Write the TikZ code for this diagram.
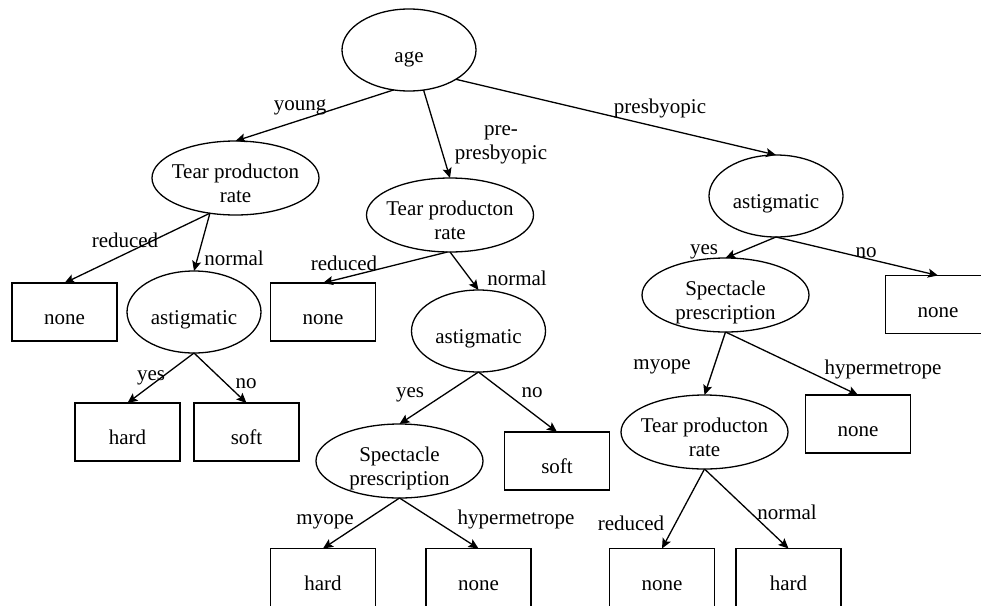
\documentclass[tikz,border=0pt]{standalone}
\usepackage{fontspec}
\setmainfont{Liberation Serif}
\usetikzlibrary{arrows.meta,shapes.geometric}
\newcommand\nodetext[1]{\makebox[0pt]{\raisebox{-8pt}[\height][\depth]{\begin{tabular}{@{}c@{}}#1\end{tabular}}}}
\newcommand\lbltext[1]{\raisebox{-3pt}[\height][\depth]{\begin{tabular}{@{}c@{}}#1\end{tabular}}}
\tikzset{
  base/.style={draw=black, line width=1.3pt, inner sep=0pt, outer sep=0pt, font=\fontsize{21}{24}\selectfont},
  ellbig/.style={base, ellipse, minimum width=134pt, minimum height=82pt},
  elltwo/.style={base, ellipse, minimum width=167pt, minimum height=74pt},
  leaf/.style={base, rectangle, minimum width=105pt, minimum height=58pt},
  lbl/.style={inner sep=0pt, outer sep=0pt, font=\fontsize{21}{24}\selectfont},
  edge/.style={line width=1.3pt, -{Stealth[length=10pt,width=9pt,inset=2pt]}},
}
\begin{document}
\begin{tikzpicture}[x=1pt,y=-1pt]
\useasboundingbox (0,0) rectangle (981,605);
% decision nodes
\node[ellbig] (age) at (409,50) {\nodetext{age}};
\node[elltwo] (t1) at (235.5,178) {\nodetext{Tear producton\\rate}};
\node[elltwo] (t2) at (450,215) {\nodetext{Tear producton\\rate}};
\node[ellbig] (a3) at (776,196) {\nodetext{astigmatic}};
\node[ellbig] (a1) at (194,312) {\nodetext{astigmatic}};
\node[ellbig] (a2) at (478.5,331) {\nodetext{astigmatic}};
\node[elltwo] (sp2) at (399.5,461) {\nodetext{Spectacle\\prescription}};
\node[elltwo] (sp3) at (725.5,295) {\nodetext{Spectacle\\prescription}};
\node[elltwo] (t3) at (704.5,432) {\nodetext{Tear producton\\rate}};
% leaves
\node[leaf] (n1) at (64.5,312) {\nodetext{none}};
\node[leaf] (n2) at (323,312) {\nodetext{none}};
\node[leaf] (h1) at (127.5,432) {\nodetext{hard}};
\node[leaf] (s1) at (246.5,432) {\nodetext{soft}};
\node[leaf] (s2) at (557,461) {\nodetext{soft}};
\node[leaf] (h2) at (323,577.5) {\nodetext{hard}};
\node[leaf] (n3) at (478.5,577.5) {\nodetext{none}};
\node[leaf] (n4) at (938,304.5) {\nodetext{none}};
\node[leaf] (n5) at (858,424) {\nodetext{none}};
\node[leaf] (n6) at (662,577.5) {\nodetext{none}};
\node[leaf] (h3) at (788.5,577.5) {\nodetext{hard}};
% edges
\draw[edge] (age.249) -- (t1.north);
\draw[edge] (age.290) -- (t2.north);
\draw[edge] (age.328) -- (a3.north);
\draw[edge] (t1.234) -- (n1.north);
\draw[edge] (t1.234) -- (a1.north);
\draw[edge] (t2.266) -- (n2.north);
\draw[edge] (t2.south) -- (a2.north);
\draw[edge] (a1.south) -- (h1.north);
\draw[edge] (a1.south) -- (s1.north);
\draw[edge] (a2.south) -- (sp2.north);
\draw[edge] (a2.south) -- (s2.north);
\draw[edge] (sp2.south) -- (h2.north);
\draw[edge] (sp2.south) -- (n3.north);
\draw[edge] (a3.south) -- (sp3.north);
\draw[edge] (a3.south) -- (n4.north);
\draw[edge] (sp3.south) -- (t3.north);
\draw[edge] (sp3.south) -- (n5.north);
\draw[edge] (t3.south) -- (n6.north);
\draw[edge] (t3.south) -- (h3.north);
% edge labels
\node[lbl] (l1) at (300,103) {\lbltext{young}};
\node[lbl] (l2) at (501,139.5) {\lbltext{pre-\\presbyopic}};
\node[lbl] (l3) at (660,106) {\lbltext{presbyopic}};
\node[lbl] (l4) at (125,240) {\lbltext{reduced}};
\node[lbl] (l5) at (234,258) {\lbltext{normal}};
\node[lbl] (l6) at (344,263) {\lbltext{reduced}};
\node[lbl] (l7) at (517,278) {\lbltext{normal}};
\node[lbl] (l8) at (151,373) {\lbltext{yes}};
\node[lbl] (l9) at (246,381) {\lbltext{no}};
\node[lbl] (l10) at (410,390) {\lbltext{yes}};
\node[lbl] (l11) at (532,390) {\lbltext{no}};
\node[lbl] (l12) at (325,517) {\lbltext{myope}};
\node[lbl] (l13) at (516,517) {\lbltext{hypermetrope}};
\node[lbl] (l14) at (704,247) {\lbltext{yes}};
\node[lbl] (l15) at (866,250) {\lbltext{no}};
\node[lbl] (l16) at (662,362) {\lbltext{myope}};
\node[lbl] (l17) at (883,367) {\lbltext{hypermetrope}};
\node[lbl] (l18) at (631,523) {\lbltext{reduced}};
\node[lbl] (l19) at (787,512) {\lbltext{normal}};
\end{tikzpicture}
\end{document}
